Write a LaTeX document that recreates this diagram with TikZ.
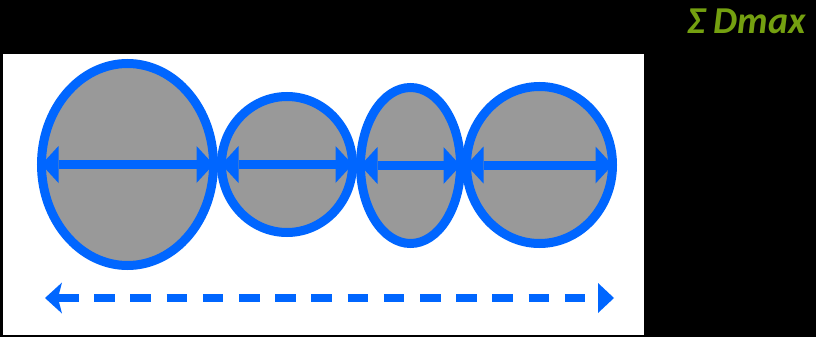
\documentclass[tikz,border=0pt]{standalone}
\usepackage{fontspec}
\newfontfamily\carlito{Carlito}
\usepackage{tikz}
\usetikzlibrary{arrows.meta,shapes.geometric}
\definecolor{lineblue}{HTML}{0066FF}
\definecolor{grainfill}{HTML}{999999}
\definecolor{sumgreen}{HTML}{74A010}

\begin{document}
\begin{tikzpicture}[x=1pt,y=-1pt,
  grain/.style={ellipse,draw=lineblue,fill=grainfill,line width=9pt,inner sep=0pt,outer sep=0pt},
  diam/.style={lineblue,line width=9pt,
    {Triangle[length=17pt,width=37pt,line width=0pt]}-{Triangle[length=17pt,width=37pt,line width=0pt]}},
  total/.style={lineblue,line width=8pt,dash pattern=on 20.5pt off 15.7pt,
    {Stealth[length=17pt,width=31pt,inset=4pt,line width=0pt]}-{Triangle[length=16pt,width=30pt,line width=0pt]}}]
  % black page and white panel
  \fill[black] (0,0) rectangle (816,337);
  \fill[white] (3,54) rectangle (644,335);
  \node[anchor=base east,inner sep=0pt,text=sumgreen,
    font=\carlito\bfseries\itshape\fontsize{38}{38}\selectfont] (sum) at (806,34) {Σ Dmax};
  % grains, each with its own diameter
  \node[grain,minimum width=172pt,minimum height=202pt] (g1) at (127.5,164.5) {};
  \node[grain,minimum width=131pt,minimum height=136pt] (g2) at (287,164.5) {};
  \node[grain,minimum width=100pt,minimum height=156pt] (g3) at (410.5,165.5) {};
  \node[grain,minimum width=146pt,minimum height=157pt] (g4) at (539.5,165) {};
  \foreach \g in {g1,g2,g3,g4}
    \draw[diam] (\g.west) -- (\g.east);
  % sum of the diameters
  \coordinate (sumL) at (45,298);
  \coordinate (sumR) at (614,298);
  \draw[total] (sumL) -- (sumR);
\end{tikzpicture}
\end{document}
